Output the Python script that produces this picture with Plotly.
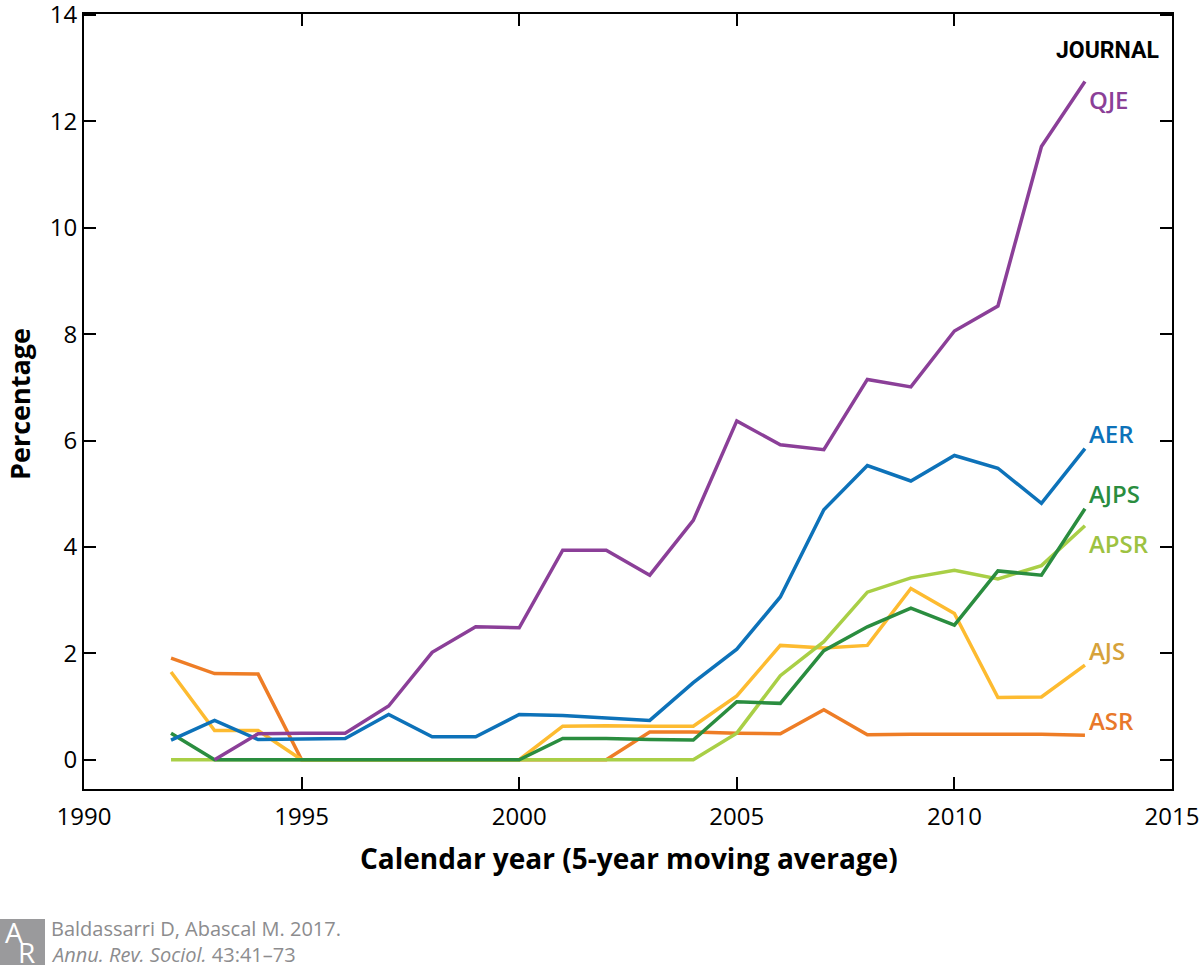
import plotly.graph_objects as go

# ==========================================================
# DATA
# ==========================================================
years = list(range(1992, 2014))

qje = [None, 0.0, 0.49, 0.50, 0.50, 1.01, 2.02, 2.50, 2.48, 3.94, 3.94,
       3.47, 4.50, 6.37, 5.92, 5.83, 7.15, 7.01, 8.06, 8.53, 11.53, 12.75]
aer = [0.37, 0.74, 0.38, 0.39, 0.40, 0.85, 0.43, 0.43, 0.85, 0.83, 0.78,
       0.74, 1.45, 2.08, 3.06, 4.70, 5.53, 5.24, 5.72, 5.48, 4.82, 5.85]
ajps = [0.50, 0.0, 0.0, 0.0, 0.0, 0.0, 0.0, 0.0, 0.0, 0.40, 0.40,
        0.38, 0.37, 1.09, 1.06, 2.05, 2.50, 2.85, 2.53, 3.55, 3.47, 4.72]
apsr = [0.0, 0.0, 0.0, 0.0, 0.0, 0.0, 0.0, 0.0, 0.0, 0.0, 0.0,
        0.0, 0.0, 0.50, 1.58, 2.22, 3.15, 3.42, 3.56, 3.40, 3.65, 4.40]
ajs = [1.65, 0.55, 0.55, 0.0, 0.0, 0.0, 0.0, 0.0, 0.0, 0.63, 0.64,
       0.63, 0.63, 1.20, 2.15, 2.10, 2.15, 3.22, 2.75, 1.17, 1.18, 1.78]
asr = [1.91, 1.62, 1.61, 0.0, 0.0, 0.0, 0.0, 0.0, 0.0, 0.0, 0.0,
       0.52, 0.52, 0.50, 0.49, 0.94, 0.47, 0.48, 0.48, 0.49, 0.48, 0.46]

# name, values, line colour, label colour, label y
series = [
    ("ASR", asr, "#EE7D26", "#E8782A", 0.74),
    ("AJS", ajs, "#FDBB30", "#D6A23A", 2.05),
    ("APSR", apsr, "#A9CF46", "#9DC241", 4.06),
    ("AJPS", ajps, "#2A8D3F", "#2A8D3F", 5.0),
    ("AER", aer, "#0D72B9", "#0D72B9", 6.13),
    ("QJE", qje, "#8B3F98", "#8B3F98", 12.41),
]

FONT = "Open Sans, Noto Sans, sans-serif"
GREY = "#8c8c8e"

# plot box in page pixels
PL, PR, PT, PB = 84, 1172, 14, 789
PW, PH = PR - PL, PB - PT


def px(x):
    return (x - PL) / PW


def py(y):
    return (PB - y) / PH


fig = go.Figure()

for name, vals, col, lab_col, lab_y in series:
    fig.add_trace(go.Scatter(
        x=years, y=vals,
        mode="lines",
        line=dict(color=col, width=3.5),
        name=name,
        showlegend=False,
    ))
    fig.add_annotation(
        x=2013.05, y=lab_y, text=name,
        xanchor="left", yanchor="middle", showarrow=False,
        font=dict(family=FONT, size=24, color=lab_col, weight=600),
    )

# legend heading
fig.add_annotation(
    x=2014.75, y=13.33, text="JOURNAL",
    xanchor="right", yanchor="middle", showarrow=False,
    font=dict(family="Liberation Sans Narrow, Roboto, sans-serif",
              size=23, color="black", weight="bold"),
)

# axis titles
fig.add_annotation(xref="paper", yref="paper", x=px(629), y=py(858),
                   xanchor="center", yanchor="middle", showarrow=False,
                   text="Calendar year (5-year moving average)",
                   font=dict(family=FONT, size=28, color="black", weight="bold"))
fig.add_annotation(xref="paper", yref="paper", x=px(20), y=py(404),
                   xanchor="center", yanchor="middle", showarrow=False,
                   textangle=-90, text="Percentage",
                   font=dict(family=FONT, size=27, color="black", weight="bold"))

# footer: logo + citation
fig.add_shape(type="rect", xref="paper", yref="paper",
              x0=px(0), x1=px(45), y0=py(965), y1=py(919),
              fillcolor="#9a9a9c", line=dict(width=0))
fig.add_annotation(xref="paper", yref="paper", x=px(14), y=py(932),
                   xanchor="center", yanchor="middle", text="A", showarrow=False,
                   font=dict(family=FONT, size=28, color="white"))
fig.add_annotation(xref="paper", yref="paper", x=px(26), y=py(952),
                   xanchor="center", yanchor="middle", text="R", showarrow=False,
                   font=dict(family=FONT, size=28, color="white"))
fig.add_annotation(xref="paper", yref="paper", x=px(49), y=py(928),
                   xanchor="left", yanchor="middle",
                   text="Baldassarri D, Abascal M. 2017.", showarrow=False,
                   font=dict(family=FONT, size=20, color=GREY))
fig.add_annotation(xref="paper", yref="paper", x=px(49), y=py(955),
                   xanchor="left", yanchor="middle",
                   text="<i>Annu. Rev. Sociol.</i> 43:41–73", showarrow=False,
                   font=dict(family=FONT, size=20, color=GREY))

axis_common = dict(
    showgrid=False, zeroline=False, automargin=False,
    showline=True, linecolor="black", linewidth=2,
    mirror="allticks", ticks="inside", ticklen=12, tickwidth=2,
    tickcolor="black", ticklabeloverflow="allow",
    tickfont=dict(family=FONT, size=24, color="black"),
)

fig.update_xaxes(range=[1990, 2015], ticklabelstandoff=5,
                 tickvals=[1990, 1995, 2000, 2005, 2010, 2015], **axis_common)
fig.update_yaxes(range=[-0.55, 14.02],
                 tickvals=[0, 2, 4, 6, 8, 10, 12, 14], **axis_common)

fig.update_layout(
    width=1200, height=971,
    margin=dict(l=PL, r=1200 - PR, t=PT, b=971 - PB),
    plot_bgcolor="white", paper_bgcolor="white",
)

# drop the default body margin so the figure fills the window exactly
fig.write_html("out.html", config={"displayModeBar": False},
               post_script="document.body.style.margin='0';")
